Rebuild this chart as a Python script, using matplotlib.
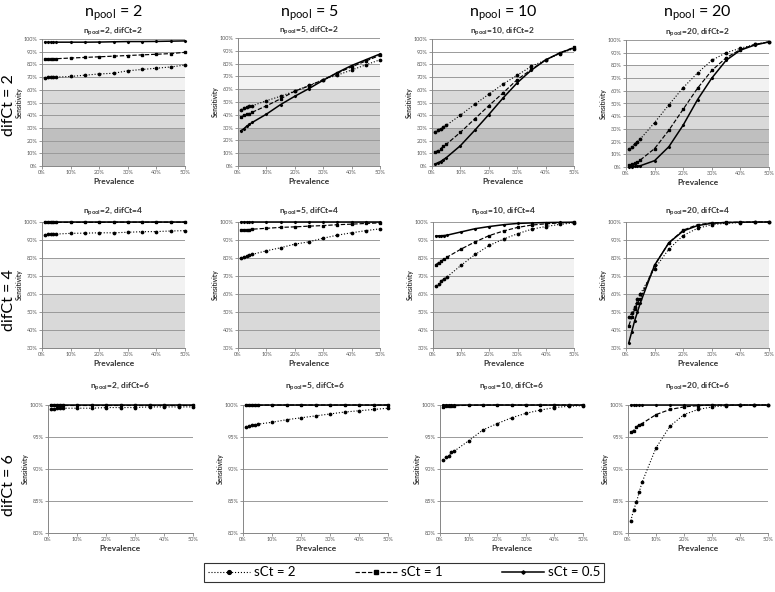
import numpy as np
import matplotlib
matplotlib.use('Agg')
import matplotlib.pyplot as plt
from matplotlib.ticker import PercentFormatter

plt.rcParams['font.family'] = ['Lato', 'DejaVu Sans']
plt.rcParams['mathtext.fontset'] = 'custom'
plt.rcParams['mathtext.rm'] = 'Lato'
plt.rcParams['mathtext.bf'] = 'Lato:bold'

# prevalence in %
prevalence = [1, 2, 3, 4, 5, 10, 15, 20, 25, 30, 35, 40, 45, 50]
pools = [2, 5, 10, 20]
difcts = [2, 4, 6]
sct_labels = ['sCt = 2', 'sCt = 1', 'sCt = 0.5']

# sensitivity (%), rows: sCt = 2, 1, 0.5
d2_n2 = [[69, 70, 70, 70, 70, 70.5, 71.5, 72.5, 73, 75, 76, 77, 78, 79.5],
         [84, 84.5, 84.5, 84.5, 84.5, 85, 85.5, 86, 86.5, 87, 87.5, 88, 88.5, 89.5],
         [97.5, 97.5, 97.5, 97.5, 97.5, 97.5, 97.5, 97.6, 97.8, 98, 98, 98.1, 98.3, 98.5]]
d2_n5 = [[44, 45, 46, 46.5, 47, 51, 54.5, 58.5, 63, 67.5, 71, 75, 79, 83],
         [38, 39.5, 40.5, 41, 42, 47, 52.5, 58.5, 62.5, 67.5, 72.5, 77.5, 82, 86.5],
         [27.5, 29, 31, 32.5, 34, 40.5, 48, 54.5, 60.5, 67, 73, 78.5, 83, 87.5]]
d2_n10 = [[26.5, 28, 29.5, 30.5, 32, 40, 48.5, 56.5, 64.5, 71.5, 78.5, 83.5, 88.5, 92.5],
          [11, 12, 13.5, 15.5, 17, 26.5, 37, 47.5, 57.5, 68, 76, 83.5, 89, 93.5],
          [1.5, 2.5, 3.5, 5, 6.5, 16, 28, 40.5, 53.5, 65.5, 75.5, 83.5, 89, 93]]
d2_n20 = [[14, 16, 18, 20, 22, 35, 49, 62.5, 74, 84, 90, 93.5, 96.5, 98.5],
          [1.5, 2, 3, 4, 5.5, 14.5, 29, 45.5, 62, 76, 86, 92.5, 96.5, 98.5],
          [0.2, 0.3, 0.5, 0.7, 1, 5, 16, 33, 53, 70, 84, 92, 96, 98.5]]

d4_n2 = [[93, 93.2, 93.3, 93.3, 93.3, 93.7, 93.8, 94, 94, 94.3, 94.6, 94.7, 95, 95.2],
         [99.8, 99.8, 99.8, 99.8, 99.8, 99.8, 99.8, 99.8, 99.9, 99.9, 99.9, 99.9, 99.9, 99.9],
         [100, 100, 100, 100, 100, 100, 100, 100, 100, 100, 100, 100, 100, 100]]
d4_n5 = [[80, 80.7, 81, 81.5, 82, 84, 85.7, 87.7, 89, 91, 92.7, 94, 95.2, 96.2],
         [95.5, 95.6, 95.7, 95.8, 96, 96.5, 97, 97.3, 97.7, 98, 98.5, 98.8, 99.2, 99.5],
         [99.9, 99.9, 99.9, 99.9, 99.9, 99.9, 99.9, 99.9, 99.9, 99.9, 99.9, 99.9, 99.9, 99.9]]
d4_n10 = [[64.5, 65.5, 67.3, 68.5, 69.5, 76, 82, 87, 90.5, 93.5, 96, 97.5, 98.7, 99.5],
          [76.3, 77.5, 78.5, 79.5, 80.5, 85, 89, 92.5, 95, 97, 98.3, 99, 99.5, 99.8],
          [92.2, 92.3, 92.4, 92.5, 92.7, 94.5, 96.3, 97.5, 98.5, 99.2, 99.5, 99.7, 99.8, 99.9]]
d4_n20 = [[47, 49.5, 53, 57, 60, 74, 85, 92.5, 96.5, 98.5, 99.3, 99.7, 99.9, 100],
          [42.5, 47, 51.5, 55, 57.5, 76, 88.5, 95.5, 98.5, 99.5, 99.8, 99.9, 100, 100],
          [33, 39, 45, 50, 55, 76, 88.5, 95, 98, 99.3, 99.7, 99.9, 100, 100]]

d6_n2 = [[99.4, 99.4, 99.5, 99.5, 99.5, 99.5, 99.5, 99.6, 99.6, 99.6, 99.7, 99.7, 99.7, 99.7],
         [99.95, 99.95, 99.95, 99.95, 99.95, 99.95, 99.95, 99.95, 99.95, 99.95, 99.95, 99.95, 99.95, 99.95],
         [100, 100, 100, 100, 100, 100, 100, 100, 100, 100, 100, 100, 100, 100]]
d6_n5 = [[96.5, 96.7, 96.8, 96.9, 97, 97.3, 97.7, 98, 98.3, 98.6, 98.9, 99.1, 99.3, 99.5],
         [99.95, 99.95, 99.95, 99.95, 99.95, 100, 100, 100, 100, 100, 100, 100, 100, 100],
         [100, 100, 100, 100, 100, 100, 100, 100, 100, 100, 100, 100, 100, 100]]
d6_n10 = [[91.4, 91.8, 92, 92.6, 92.8, 94.4, 96.1, 97.1, 98, 98.7, 99.2, 99.6, 99.8, 99.9],
          [99.7, 99.8, 99.8, 99.85, 99.9, 99.95, 100, 100, 100, 100, 100, 100, 100, 100],
          [100, 100, 100, 100, 100, 100, 100, 100, 100, 100, 100, 100, 100, 100]]
d6_n20 = [[81.9, 83.6, 84.8, 86.4, 87.9, 93.3, 96.7, 98.5, 99.3, 99.7, 99.9, 100, 100, 100],
          [95.8, 96, 96.6, 96.9, 97.1, 98.5, 99.3, 99.7, 99.9, 100, 100, 100, 100, 100],
          [100, 100, 100, 100, 100, 100, 100, 100, 100, 100, 100, 100, 100, 100]]

panels = [[d2_n2, d2_n5, d2_n10, d2_n20],
          [d4_n2, d4_n5, d4_n10, d4_n20],
          [d6_n2, d6_n5, d6_n10, d6_n20]]

W, H = 775, 592
# axes boxes in pixels: (left, top, right, bottom)
boxes = [[(42, 39, 185, 166), (238, 38, 380, 166), (432, 39, 574, 166), (626, 40, 769, 167)],
         [(42, 222, 185, 348), (238, 222, 380, 348), (433, 222, 574, 348), (626, 222, 769, 348)],
         [(48, 405, 193, 533), (243, 405, 388, 533), (440, 405, 583, 533), (628, 405, 768, 533)]]
ylims = [(0, 100, 10), (30, 100, 10), (80, 100, 5)]
bands = [[(0, 30, '#bfbfbf'), (30, 60, '#d9d9d9'), (60, 80, '#f2f2f2')],
         [(30, 60, '#d9d9d9'), (60, 80, '#f2f2f2')],
         []]
styles = [dict(ls=':', marker='o', ms=1.7, lw=0.8),
          dict(ls='--', marker='s', ms=1.7, lw=0.85),
          dict(ls='-', marker='D', ms=1.1, lw=1.1)]

fig = plt.figure(figsize=(W / 100, H / 100), dpi=100)
grey = '#595959'

for r in range(3):
    for c in range(4):
        l, t, rr, b = boxes[r][c]
        ax = fig.add_axes([l / W, 1 - b / H, (rr - l) / W, (b - t) / H])
        lo, hi, step = ylims[r]
        for y0, y1, col in bands[r]:
            ax.axhspan(y0, y1, color=col, lw=0, zorder=0)
        for yy in np.arange(lo + step, hi + 0.01, step):
            ax.axhline(yy, color='#9a9a9a', lw=0.7, zorder=1)
        for k, ser in enumerate(panels[r][c]):
            ax.plot(prevalence, ser, color='black', zorder=3, clip_on=False,
                    label=sct_labels[k], **styles[k])
        ax.set_xlim(0, 50)
        ax.set_ylim(lo, hi)
        ax.set_xticks(range(0, 51, 10))
        ax.set_yticks(np.arange(lo, hi + 0.01, step))
        ax.xaxis.set_major_formatter(PercentFormatter(decimals=0))
        ax.yaxis.set_major_formatter(PercentFormatter(decimals=0))
        ax.tick_params(labelsize=4, colors='#868686', labelcolor=grey,
                       length=2, width=0.6, pad=1.2)
        for s in ['top', 'right']:
            ax.spines[s].set_visible(False)
        for s in ['left', 'bottom']:
            ax.spines[s].set_color('#868686')
            ax.spines[s].set_linewidth(0.7)
        ax.set_xlabel('Prevalence', fontsize=6, fontweight='bold', color='#333333', labelpad=1.5)
        ax.set_ylabel('Sensitivity', fontsize=4.8, fontweight='bold', color='#333333', labelpad=0.8)
        ax.set_title(r'n$_{\mathbf{pool}}$=%d, difCt=%d' % (pools[c], difcts[r]),
                     fontsize=6, fontweight='bold', color='#333333',
                     pad=4 if r == 0 else (6 if r == 1 else 12))
        if r == 0:
            fig.text((l + rr) / 2 / W, 1 - 13 / H, r'n$_{\mathrm{pool}}$ = %d' % pools[c],
                     ha='center', va='center', fontsize=11.5)
        if c == 0:
            fig.text(9 / W, 1 - [105, 300, 485][r] / H, 'difCt = %d' % difcts[r],
                     ha='center', va='center', rotation=90, fontsize=11.5)

handles, labels = ax.get_legend_handles_labels()
leg = fig.legend(handles, labels, loc='center', bbox_to_anchor=(404 / W, 1 - 572.5 / H),
                 ncol=3, fontsize=9.5, frameon=True, fancybox=False, edgecolor='black',
                 handlelength=3.2, columnspacing=4.5, handletextpad=0.3,
                 borderpad=0.25, markerscale=1.6)
leg.get_frame().set_linewidth(0.8)

fig.savefig('out.png', dpi=100)
